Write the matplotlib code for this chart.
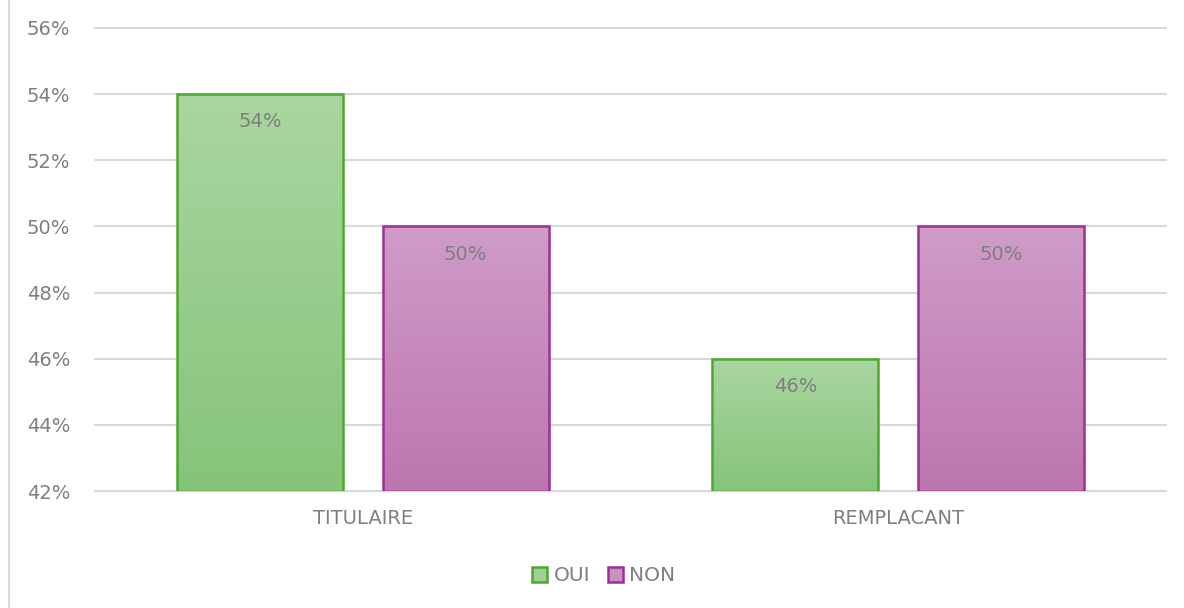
import matplotlib.pyplot as plt
import matplotlib.colors as mcolors
import numpy as np
from matplotlib.lines import Line2D

categories = ["TITULAIRE", "REMPLACANT"]
oui = [54, 46]
non = [50, 50]
series_names = ["OUI", "NON"]

fig = plt.figure(figsize=(11.84, 6.08), dpi=100)
ax = fig.add_axes([0.0802, 0.1924, 0.9046, 0.7616])

x = np.arange(len(categories))
w = 0.31
off = 0.192
base = 42

grey = "#7f7f7f"
green_edge = "#4ea72e"
purple_edge = "#9e2f96"
green_grad = mcolors.LinearSegmentedColormap.from_list("g", ["#86c47a", "#a9d6a0"])
purple_grad = mcolors.LinearSegmentedColormap.from_list("p", ["#bd76af", "#cf9cc8"])

bars_oui = ax.bar(x - off, np.array(oui) - base, w, bottom=base, color="none",
                  edgecolor=green_edge, linewidth=1.8, label=series_names[0], zorder=3)
bars_non = ax.bar(x + off, np.array(non) - base, w, bottom=base, color="none",
                  edgecolor=purple_edge, linewidth=1.8, label=series_names[1], zorder=3)

grad = np.linspace(0, 1, 256).reshape(-1, 1)
for bars, cmap in [(bars_oui, green_grad), (bars_non, purple_grad)]:
    for b in bars:
        x0, y0 = b.get_x(), b.get_y()
        im = ax.imshow(grad, cmap=cmap, origin="lower", aspect="auto",
                       extent=[x0, x0 + b.get_width(), y0, y0 + b.get_height()], zorder=2)
        im.set_clip_path(b)

for bars, vals in [(bars_oui, oui), (bars_non, non)]:
    for b, v in zip(bars, vals):
        ax.annotate(f"{v}%", (b.get_x() + b.get_width() / 2, b.get_y() + b.get_height()),
                    xytext=(0, -20), textcoords="offset points", ha="center", va="center",
                    fontsize=14, color=grey, zorder=4)

ax.set_xlim(-0.5, 1.5)
ax.set_ylim(42, 56)
ax.set_yticks(range(42, 57, 2))
ax.set_yticklabels([f"{t}%" for t in range(42, 57, 2)])
ax.set_xticks(x)
ax.set_xticklabels(categories)
ax.tick_params(axis="y", length=0, pad=18, labelsize=14, labelcolor=grey)
ax.tick_params(axis="x", length=0, pad=13, labelsize=14, labelcolor=grey)
ax.grid(axis="y", color="#d9d9d9", linewidth=1.5, zorder=0)
for gl in ax.get_ygridlines():
    gl.set_clip_on(False)
ax.set_axisbelow(True)
for s in ["top", "right", "left"]:
    ax.spines[s].set_visible(False)
ax.spines["bottom"].set_color("#d9d9d9")
ax.spines["bottom"].set_linewidth(1.5)

handles = [
    plt.Rectangle((0, 0), 1, 1, facecolor="#a0d096", edgecolor=green_edge, linewidth=1.8),
    plt.Rectangle((0, 0), 1, 1, facecolor="#c991c0", edgecolor=purple_edge, linewidth=1.8),
]
fig.legend(handles, series_names, loc="center", bbox_to_anchor=(0.51, 0.053), ncol=2,
           frameon=False, fontsize=14.5, labelcolor=grey, handlelength=0.75, handleheight=0.75,
           handletextpad=0.3, columnspacing=0.9)

fig.add_artist(Line2D([0.0075, 0.0075], [0, 1], color="#d9d9d9", linewidth=1.5,
                      transform=fig.transFigure))

fig.savefig("out.png", dpi=100)
